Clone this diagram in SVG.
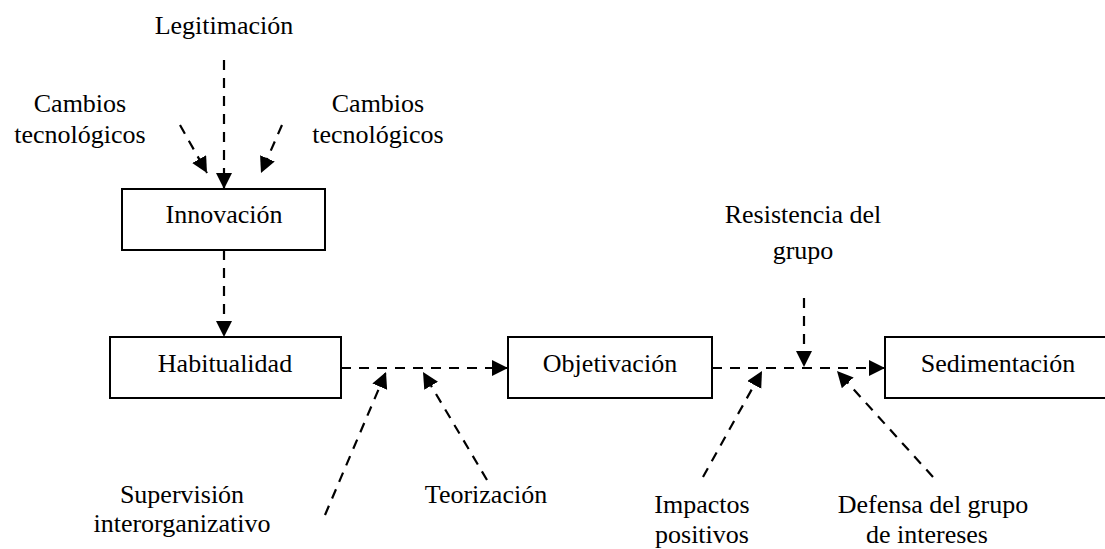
<svg xmlns="http://www.w3.org/2000/svg" width="1105" height="549" viewBox="0 0 1105 549">
  <style>
    .box { fill: #ffffff; stroke: #000000; stroke-width: 2; }
    .lbl { font-family: "Liberation Serif", "Times New Roman", serif; font-size: 26px; fill: #000000; text-anchor: middle; }
    .flow { fill: none; stroke: #000000; stroke-width: 2.2; stroke-dasharray: 10 8; marker-end: url(#head); }
  </style>
  <defs>
    <marker id="head" markerUnits="userSpaceOnUse" markerWidth="17" markerHeight="17" viewBox="0 0 17 17" refX="16" refY="8" orient="auto">
      <path d="M0,0 L16,8 L0,16 Z" fill="#000000"/>
    </marker>
  </defs>
  <rect width="1105" height="549" fill="#ffffff"/>

  <!-- connectors -->
  <g id="connectors">
    <line class="flow" x1="224" y1="60" x2="224" y2="189"/>
    <line class="flow" x1="180" y1="125" x2="207" y2="173"/>
    <line class="flow" x1="282" y1="125" x2="261" y2="173"/>
    <line class="flow" x1="224" y1="250" x2="224" y2="337"/>
    <line class="flow" x1="341" y1="368" x2="508" y2="368"/>
    <line class="flow" x1="325" y1="515" x2="386" y2="372"/>
    <line class="flow" x1="487" y1="480" x2="423" y2="372"/>
    <line class="flow" x1="712" y1="368" x2="885" y2="368"/>
    <line class="flow" x1="804" y1="298" x2="804" y2="367"/>
    <line class="flow" x1="703" y1="477" x2="762" y2="371"/>
    <line class="flow" x1="933" y1="477" x2="837" y2="371"/>
  </g>

  <!-- process stages -->
  <g id="innovacion">
    <rect class="box" x="122" y="189" width="203" height="61"/>
    <text class="lbl" x="224" y="223">Innovación</text>
  </g>
  <g id="habitualidad">
    <rect class="box" x="110" y="337" width="231" height="61"/>
    <text class="lbl" x="225" y="372">Habitualidad</text>
  </g>
  <g id="objetivacion">
    <rect class="box" x="508" y="337" width="204" height="61"/>
    <text class="lbl" x="610" y="372">Objetivación</text>
  </g>
  <g id="sedimentacion">
    <rect class="box" x="885" y="337" width="230" height="61"/>
    <text class="lbl" x="998" y="372">Sedimentación</text>
  </g>

  <!-- influencing factors -->
  <g id="legitimacion">
    <text class="lbl" x="224" y="34">Legitimación</text>
  </g>
  <g id="cambios-izq">
    <text class="lbl" x="80" y="112">Cambios</text>
    <text class="lbl" x="80" y="143">tecnológicos</text>
  </g>
  <g id="cambios-der">
    <text class="lbl" x="378" y="112">Cambios</text>
    <text class="lbl" x="378" y="143">tecnológicos</text>
  </g>
  <g id="supervision">
    <text class="lbl" x="182" y="503">Supervisión</text>
    <text class="lbl" x="182" y="532">interorganizativo</text>
  </g>
  <g id="teorizacion">
    <text class="lbl" x="486" y="503">Teorización</text>
  </g>
  <g id="resistencia">
    <text class="lbl" x="803" y="223">Resistencia del</text>
    <text class="lbl" x="803" y="259">grupo</text>
  </g>
  <g id="impactos">
    <text class="lbl" x="702" y="513">Impactos</text>
    <text class="lbl" x="702" y="543">positivos</text>
  </g>
  <g id="defensa">
    <text class="lbl" x="933" y="513">Defensa del grupo</text>
    <text class="lbl" x="927" y="543">de intereses</text>
  </g>
</svg>
